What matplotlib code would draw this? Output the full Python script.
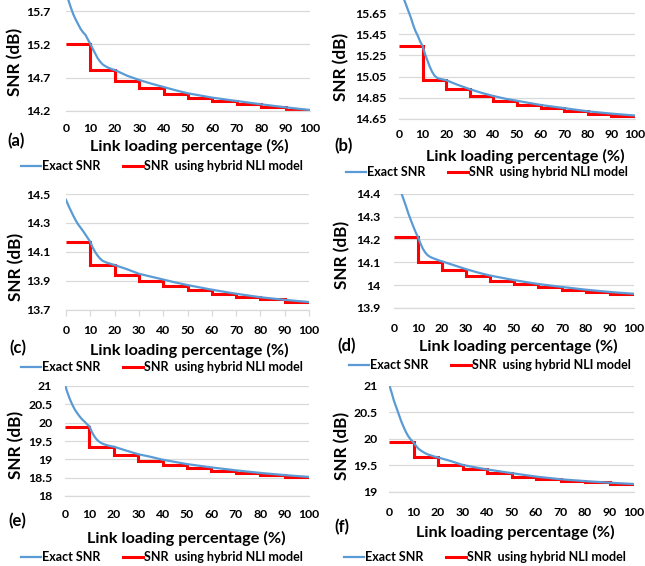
import matplotlib as mpl
import matplotlib.pyplot as plt
import numpy as np

mpl.rcParams.update({
    "font.family": ["Lato", "DejaVu Sans"],
    "font.weight": "bold",
    "axes.labelweight": "bold",
})

W, H = 645, 566

# link loading (%) where the exact curve was read
load_exact = [0, 1, 2, 3, 4, 5, 6, 7, 8, 9, 10, 11, 12, 13, 14, 15, 16, 17, 18, 19, 20,
              25, 30, 35, 40, 45, 50, 60, 70, 80, 90, 100]
# hybrid model is piecewise constant on 10 % bins
load_edges = [0, 10, 20, 30, 40, 50, 60, 70, 80, 90, 100]

exact_a = [15.96, 15.86, 15.75, 15.65, 15.57, 15.50, 15.43, 15.38, 15.34, 15.27, 15.205,
           15.13, 15.06, 14.99, 14.94, 14.90, 14.875, 14.855, 14.84, 14.825, 14.815,
           14.73, 14.665, 14.61, 14.56, 14.51, 14.465, 14.40, 14.35, 14.30, 14.255, 14.215]
hybrid_a = [15.205, 14.815, 14.655, 14.55, 14.462, 14.40, 14.35, 14.30, 14.255, 14.215]

exact_b = [15.92, 15.85, 15.79, 15.73, 15.67, 15.61, 15.54, 15.48, 15.435, 15.38, 15.34,
           15.265, 15.205, 15.145, 15.096, 15.06, 15.04, 15.03, 15.025, 15.02, 15.015,
           14.97, 14.93, 14.895, 14.865, 14.84, 14.82, 14.78, 14.75, 14.72, 14.698, 14.68]
hybrid_b = [15.34, 15.017, 14.93, 14.865, 14.82, 14.78, 14.75, 14.72, 14.695, 14.677]

exact_c = [14.46, 14.42, 14.385, 14.35, 14.318, 14.29, 14.268, 14.245, 14.22, 14.195, 14.17,
           14.13, 14.10, 14.075, 14.055, 14.04, 14.032, 14.025, 14.02, 14.015, 14.01,
           13.982, 13.95, 13.93, 13.91, 13.89, 13.872, 13.84, 13.812, 13.788, 13.77, 13.755]
hybrid_c = [14.17, 14.01, 13.943, 13.898, 13.864, 13.836, 13.81, 13.79, 13.776, 13.757]

exact_d = [14.50, 14.47, 14.435, 14.405, 14.375, 14.345, 14.313, 14.285, 14.258, 14.232, 14.21,
           14.183, 14.16, 14.143, 14.131, 14.124, 14.119, 14.115, 14.111, 14.107, 14.104,
           14.087, 14.07, 14.055, 14.042, 14.032, 14.022, 14.005, 13.992, 13.98, 13.97, 13.962]
hybrid_d = [14.21, 14.10, 14.066, 14.038, 14.018, 14.004, 13.99, 13.978, 13.968, 13.96]

exact_e = [21.03, 20.82, 20.64, 20.49, 20.36, 20.26, 20.17, 20.09, 20.03, 19.96, 19.90,
           19.75, 19.63, 19.54, 19.48, 19.44, 19.41, 19.39, 19.37, 19.355, 19.345,
           19.24, 19.14, 19.07, 18.99, 18.93, 18.87, 18.78, 18.70, 18.63, 18.57, 18.52]
hybrid_e = [19.89, 19.345, 19.13, 18.96, 18.855, 18.77, 18.69, 18.63, 18.57, 18.52]

exact_f = [21.03, 20.88, 20.72, 20.59, 20.46, 20.33, 20.22, 20.12, 20.04, 19.98, 19.935,
           19.87, 19.815, 19.78, 19.75, 19.725, 19.705, 19.69, 19.675, 19.66, 19.65,
           19.585, 19.51, 19.465, 19.425, 19.39, 19.355, 19.29, 19.24, 19.205, 19.175, 19.15]
hybrid_f = [19.935, 19.65, 19.51, 19.425, 19.355, 19.29, 19.24, 19.21, 19.18, 19.15]

x_ticks = [0, 10, 20, 30, 40, 50, 60, 70, 80, 90, 100]
yticks_a = [14.2, 14.7, 15.2, 15.7]
yticks_b = [14.65, 14.85, 15.05, 15.25, 15.45, 15.65]
yticks_c = [13.7, 13.9, 14.1, 14.3, 14.5]
yticks_d = [13.9, 14.0, 14.1, 14.2, 14.3, 14.4]
ylabels_d = ["13.9", "14", "14.1", "14.2", "14.3", "14.4"]
yticks_e = [18, 18.5, 19, 19.5, 20, 20.5, 21]
ylabels_e = ["18", "18.5", "19", "19.5", "20", "20.5", "21"]
yticks_f = [19, 19.5, 20, 20.5, 21]
ylabels_f = ["19", "19.5", "20", "20.5", "21"]

BLUE = "#5B9BD5"
RED = "#FF0000"
GRID = "#D9D9D9"

# layout in pixels: axes box, y-limits, paddings, label anchors
panels = [
    dict(tag="(a)", exact=exact_a, hyb=hybrid_a, yt=yticks_a, yl=None,
         box=(66, 0, 310, 111), ylim=(14.2, 15.865), xpad=8.5, ypad=11.0, ticks=False,
         ylab=(15, 62), xlab=(189, 151.5), tagpos=(7, 146.5), leg=(21, 166)),
    dict(tag="(b)", exact=exact_b, hyb=hybrid_b, yt=yticks_b, yl=None,
         box=(399, 0, 635, 118.7), ylim=(14.65, 15.776), xpad=7.5, ypad=9.0, ticks=False,
         ylab=(341, 67), xlab=(525, 161.5), tagpos=(334, 151.5), leg=(346, 172)),
    dict(tag="(c)", exact=exact_c, hyb=hybrid_c, yt=yticks_c, yl=None,
         box=(66, 194, 309, 310), ylim=(13.7, 14.5), xpad=10.5, ypad=11.5, ticks=True,
         ylab=(16, 267), xlab=(189, 355.5), tagpos=(9, 353), leg=(21, 367)),
    dict(tag="(d)", exact=exact_d, hyb=hybrid_d, yt=yticks_d, yl=ylabels_d,
         box=(394, 193.7, 634, 308), ylim=(13.9, 14.4), xpad=10.5, ypad=9.5, ticks=False,
         ylab=(342, 255), xlab=(518, 351.5), tagpos=(337, 351.5), leg=(349, 365)),
    dict(tag="(e)", exact=exact_e, hyb=hybrid_e, yt=yticks_e, yl=ylabels_e,
         box=(65, 386, 309, 496), ylim=(18, 21), xpad=9.0, ypad=9.2, ticks=False,
         ylab=(16, 445), xlab=(186, 543.3), tagpos=(8, 526.5), leg=(21, 557)),
    dict(tag="(f)", exact=exact_f, hyb=hybrid_f, yt=yticks_f, yl=ylabels_f,
         box=(389, 385.7, 634, 492), ylim=(19, 21), xpad=11.0, ypad=8.4, ticks=False,
         ylab=(342, 446), xlab=(515, 536.7), tagpos=(334, 532), leg=(344, 557)),
]

fig = plt.figure(figsize=(W / 100, H / 100), dpi=100)
fig.patch.set_facecolor("white")

for p in panels:
    left, top, right, bottom = p["box"]
    ax = fig.add_axes([left / W, 1 - bottom / H, (right - left) / W, (bottom - top) / H])

    ax.plot(load_exact, p["exact"], color=BLUE, lw=1.6, label="Exact SNR", zorder=3)
    ax.stairs(p["hyb"], load_edges, baseline=None, color=RED, lw=2.2,
              label="SNR  using hybrid NLI model", zorder=2)

    ax.set_xlim(0, 100)
    ax.set_ylim(*p["ylim"])
    ax.set_xticks(x_ticks)
    ax.set_yticks(p["yt"])
    if p["yl"] is not None:
        ax.set_yticklabels(p["yl"])
    ax.grid(axis="y", color=GRID, lw=0.9)
    ax.set_axisbelow(True)
    for s in ("top", "right", "left"):
        ax.spines[s].set_visible(False)
    ax.spines["bottom"].set_color(GRID)
    ax.spines["bottom"].set_linewidth(0.9)
    ax.tick_params(axis="y", length=0, pad=p["ypad"], labelsize=8.8)
    if p["ticks"]:
        ax.tick_params(axis="x", length=4, width=0.9, color=GRID, direction="out",
                       pad=p["xpad"] - 4, labelsize=8.8)
    else:
        ax.tick_params(axis="x", length=0, pad=p["xpad"], labelsize=8.8)

    ax.set_ylabel("SNR (dB)", fontsize=12.3, fontweight="bold")
    ax.yaxis.set_label_coords(p["ylab"][0] / W, 1 - p["ylab"][1] / H, transform=fig.transFigure)
    ax.yaxis.label.set_verticalalignment("center")
    fig.text(p["xlab"][0] / W, 1 - p["xlab"][1] / H, "Link loading percentage (%)",
             fontsize=11.7, fontweight="bold", ha="center", va="baseline")
    fig.text(p["tagpos"][0] / W, 1 - p["tagpos"][1] / H, p["tag"],
             fontsize=12, fontweight="bold", ha="left", va="baseline")

    ax.legend(loc="center left", bbox_to_anchor=(p["leg"][0] / W, 1 - p["leg"][1] / H),
              bbox_transform=fig.transFigure, ncol=2, frameon=False, fontsize=9,
              handlelength=1.6, handletextpad=0.1, columnspacing=1.75,
              borderpad=0, borderaxespad=0)

fig.savefig("out.png", dpi=100)
